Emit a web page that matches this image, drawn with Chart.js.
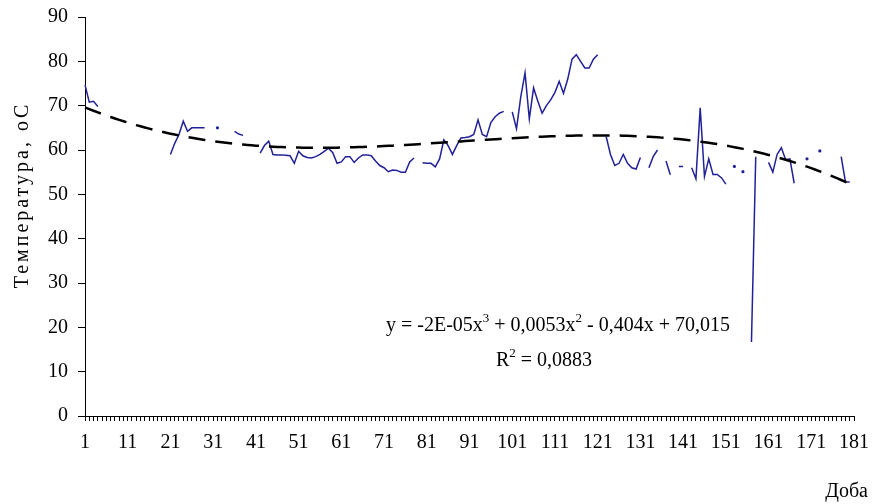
<!DOCTYPE html>
<html>
<head>
<meta charset="utf-8">
<script src="https://cdn.jsdelivr.net/npm/chart.js@4"></script>
<style>
  html, body { margin: 0; padding: 0; background: #fff; }
</style>
</head>
<body>
<canvas id="chart" width="874" height="504"></canvas>
<script>
// Температура по добах (1..181), null = немає вимірювання
const days = Array.from({ length: 181 }, (_, i) => String(i + 1));

const temperature = [
    74.7, 70.8, 71.0, 69.8, null, null, null, null, null, null,
    null, null, null, null, null, null, null, null, null, null,
    59.0, 61.5, 63.5, 66.5, 64.2, 65.0, 65.0, 65.0, 65.0, null,
    null, 65.0, null, null, null, 64.2, 63.6, 63.3, null, null,
    null, 59.3, 61.0, 62.0, 59.0, 58.9, 58.9, 58.8, 58.7, 57.0,
    59.7, 58.7, 58.3, 58.2, 58.5, 59.0, 59.7, 60.4, 59.4, 57.0,
    57.3, 58.5, 58.5, 57.2, 58.2, 58.9, 58.9, 58.7, 57.5, 56.5,
    56.0, 55.1, 55.5, 55.4, 55.0, 55.0, 57.3, 58.2, null, 57.1,
    57.0, 57.0, 56.2, 58.0, 62.3, 61.0, 59.0, 61.0, 62.7, 62.8,
    63.0, 63.5, 66.8, 63.5, 63.0, 66.2, 67.5, 68.3, 68.7, null,
    68.6, 64.8, 72.0, 77.4, 67.0, 74.0, 71.0, 68.3, 70.0, 71.3,
    73.0, 75.5, 72.8, 76.0, 80.5, 81.5, 80.0, 78.5, 78.5, 80.5,
    81.5, null, 63.0, 59.0, 56.5, 57.0, 59.0, 57.0, 56.0, 55.7,
    58.3, null, 56.0, 58.5, 60.0, null, 57.5, 54.4, null, 56.3,
    56.3, null, 56.0, 53.5, 69.5, 54.0, 58.0, 54.5, 54.5, 53.7,
    52.3, null, 56.3, null, 55.1, null, 16.7, 58.5, null, null,
    57.2, 55.0, 59.0, 60.5, 57.8, 58.0, 52.5, null, null, 58.0,
    null, null, 59.8, null, null, null, null, 58.5, 52.8, 52.8,
    null
];

// Коефіцієнти поліноміального тренду з підпису: x^3, x^2, x, вільний член
const trendCoef = [-2e-5, 0.0053, -0.404, 70.015];
const yTicks = [0, 10, 20, 30, 40, 50, 60, 70, 80, 90];

const yTitle = 'Температура, оС';
const xTitle = 'Доба';

const FONT_FAMILY = '"Liberation Serif", "Times New Roman", serif';
const BLUE = '#202098';

const trend = days.map((d) => {
    const x = Number(d);
    return trendCoef[0] * x * x * x + trendCoef[1] * x * x + trendCoef[2] * x + trendCoef[3];
});

// Підписи осей та рівняння тренду
const textPlugin = {
    id: 'chartTexts',
    afterDraw: function (chart) {
        const c = chart.ctx;
        c.save();
        c.fillStyle = '#000';
        c.font = '20px ' + FONT_FAMILY;

        // назва осі Y (розріджена, як в оригіналі)
        c.save();
        c.translate(23, 195);
        c.rotate(-Math.PI / 2);
        c.letterSpacing = '3px';
        c.textAlign = 'center';
        c.textBaseline = 'middle';
        c.fillText(yTitle, 0, 0);
        c.restore();

        // назва осі X
        c.textAlign = 'right';
        c.textBaseline = 'alphabetic';
        c.fillText(xTitle, 868, 497);

        // рівняння: частини з верхніми індексами
        const parts = [
            ['y = -2E-05x', false], ['3', true],
            [' + 0,0053x', false], ['2', true],
            [' - 0,404x + 70,015', false]
        ];
        const normal = '20px ' + FONT_FAMILY;
        const sup = '13px ' + FONT_FAMILY;
        let total = 0;
        parts.forEach(([t, s]) => { c.font = s ? sup : normal; total += c.measureText(t).width; });
        let x = 558 - total / 2;
        c.textAlign = 'left';
        parts.forEach(([t, s]) => {
            c.font = s ? sup : normal;
            c.fillText(t, x, s ? 322 : 331);
            x += c.measureText(t).width;
        });

        // R^2
        const r = [['R', false], ['2', true], [' = 0,0883', false]];
        total = 0;
        r.forEach(([t, s]) => { c.font = s ? sup : normal; total += c.measureText(t).width; });
        x = 544 - total / 2;
        r.forEach(([t, s]) => {
            c.font = s ? sup : normal;
            c.fillText(t, x, s ? 357 : 366);
            x += c.measureText(t).width;
        });
        c.restore();
    }
};

// одиночні точки (без сусідів) показуємо маленькою крапкою
function isolatedRadius(ctx) {
    const d = ctx.dataset.data;
    const i = ctx.dataIndex;
    if (d[i] == null) return 0;
    const prev = i > 0 ? d[i - 1] : null;
    const next = i < d.length - 1 ? d[i + 1] : null;
    return prev == null && next == null ? 1.6 : 0;
}

new Chart(document.getElementById('chart'), {
    type: 'line',
    data: {
        labels: days,
        datasets: [
            {
                label: 'Тренд',
                data: trend,
                borderColor: '#000',
                borderWidth: 2.5,
                borderDash: [17, 10],
                pointRadius: 0,
                fill: false,
                order: 0
            },
            {
                label: 'Температура',
                data: temperature,
                borderColor: BLUE,
                backgroundColor: BLUE,
                borderWidth: 1.5,
                pointRadius: isolatedRadius,
                pointBorderWidth: 0,
                spanGaps: false,
                tension: 0,
                fill: false,
                order: 1
            }
        ]
    },
    options: {
        responsive: false,
        animation: false,
        // область графіка: x 85..854, y 17..416
        layout: { padding: { left: 40, top: 17, right: 20, bottom: 48 } },
        plugins: {
            legend: { display: false },
            tooltip: { enabled: false }
        },
        scales: {
            x: {
                type: 'category',
                offset: false,
                afterFit: function (scale) {
                    scale.height = 40;
                    scale.paddingLeft = 0;
                    scale.paddingRight = 0;
                },
                grid: { drawOnChartArea: false, drawTicks: true, tickLength: 5, color: '#000' },
                border: { color: '#000', width: 1 },
                ticks: {
                    autoSkip: false,
                    maxRotation: 0,
                    minRotation: 0,
                    padding: 10,
                    color: '#000',
                    font: { family: FONT_FAMILY, size: 20 },
                    callback: function (value, index) {
                        return index % 10 === 0 ? days[index] : '';
                    }
                }
            },
            y: {
                min: yTicks[0],
                max: yTicks[yTicks.length - 1],
                afterFit: function (scale) {
                    scale.width = 45;
                    scale.paddingTop = 0;
                    scale.paddingBottom = 0;
                },
                afterBuildTicks: function (scale) {
                    scale.ticks = yTicks.map((v) => ({ value: v }));
                },
                grid: { drawOnChartArea: false, drawTicks: true, tickLength: 7, color: '#000' },
                border: { color: '#000', width: 1 },
                ticks: {
                    padding: 10,
                    color: '#000',
                    font: { family: FONT_FAMILY, size: 20 }
                }
            }
        }
    },
    plugins: [textPlugin]
});
</script>
</body>
</html>
